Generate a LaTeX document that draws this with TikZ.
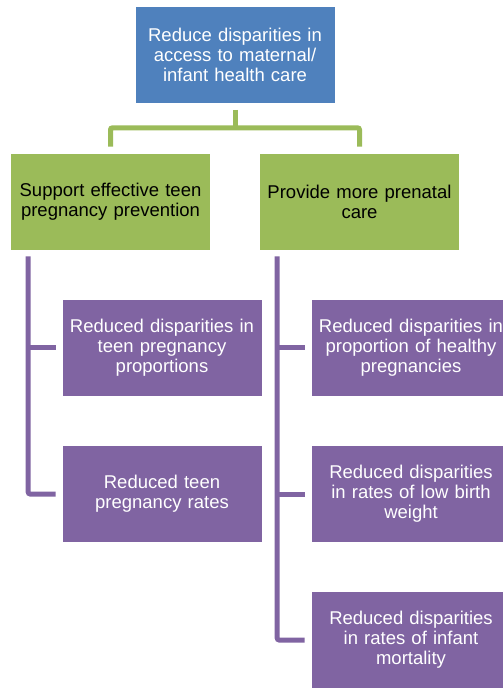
\documentclass[tikz,border=0pt]{standalone}
\usepackage{fontspec}
\setmainfont{Liberation Sans}
\usetikzlibrary{calc}
\definecolor{topblue}{HTML}{4F81BD}
\definecolor{midgreen}{HTML}{9BBB59}
\definecolor{leafpurple}{HTML}{8064A2}
\begin{document}
\begin{tikzpicture}[x=1pt,y=-1pt,
  box/.style={rectangle, minimum width=200pt, minimum height=97pt, text width=200pt,
    align=center, inner sep=0pt, draw=white, line width=0.6pt,
    font=\fontsize{18.5}{20}\selectfont},
  topbox/.style={box, fill=topblue, text=white},
  midbox/.style={box, fill=midgreen, text=black},
  leafbox/.style={box, fill=leafpurple, text=white},
  gline/.style={draw=midgreen, line width=5pt, rounded corners=2pt},
  pline/.style={draw=leafpurple, line width=5pt, rounded corners=2pt}]
\useasboundingbox (0,0) rectangle (503,688);
\clip (0,0) rectangle (503,688);
\node[topbox] (top) at (235,55) {Reduce disparities in\\access to maternal/\\infant health care};
\node[midbox] (sup) at (110.5,201.5) {Support effective teen\\pregnancy prevention};
\node[midbox] (prov) at (359.5,201.5) {Provide more prenatal\\care};
\node[leafbox] (l1) at (162,347.5) {Reduced disparities in\\teen pregnancy\\proportions};
\node[leafbox] (l2) at (162,494) {Reduced teen\\pregnancy rates};
\node[leafbox] (r1) at (411,347.5) {Reduced disparities in\\proportion of healthy\\pregnancies};
\node[leafbox] (r2) at (411,494) {Reduced disparities\\in rates of low birth\\weight};
\node[leafbox] (r3) at (411,640) {Reduced disparities\\in rates of infant\\mortality};
% green connectors
\draw[gline] ($(sup.north)+(0,-6)$) |- ($(top.south)+(0,24)$) -| ($(prov.north)+(0,-6)$);
\draw[gline] ($(top.south)+(0,6)$) -- ($(top.south)+(0,24)$);
% purple connectors
\coordinate (lv) at ($(sup.south west)+(18,6)$);
\coordinate (rv) at ($(prov.south west)+(18,6)$);
\draw[pline] (lv) |- ($(l2.west)+(-6,0)$);
\draw[pline] (lv |- l1.west) -- ($(l1.west)+(-6,0)$);
\draw[pline] (rv) |- ($(r3.west)+(-6,0)$);
\draw[pline] (rv |- r1.west) -- ($(r1.west)+(-6,0)$);
\draw[pline] (rv |- r2.west) -- ($(r2.west)+(-6,0)$);
\end{tikzpicture}
\end{document}
